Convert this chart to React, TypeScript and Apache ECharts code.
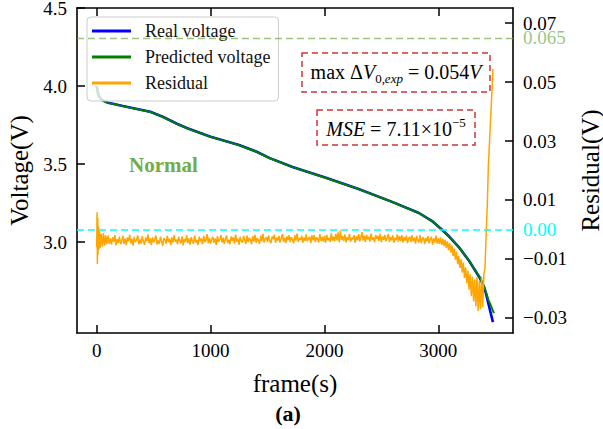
import React, { useEffect, useRef } from "react";
import * as echarts from "echarts";

const FONT = '"Liberation Serif", "Times New Roman", serif';

const xTicks = [0, 1000, 2000, 3000];
const voltageTicks = [3.0, 3.5, 4.0, 4.5];
const residualTicks = [-0.03, -0.01, 0.01, 0.03, 0.05, 0.07];
const legendNames = ["Real voltage", "Predicted voltage", "Residual"];

const realVoltage: [number, number][] = [
  [0, 4.0], [8, 3.965], [20, 3.935], [40, 3.915], [70, 3.902], [100, 3.893],
  [230, 3.872], [470, 3.835], [580, 3.803], [700, 3.76], [790, 3.731],
  [1000, 3.675], [1250, 3.622], [1400, 3.58], [1520, 3.538], [1720, 3.481],
  [2020, 3.41], [2300, 3.34], [2600, 3.256], [2830, 3.186], [2950, 3.132],
  [3030, 3.08], [3100, 3.032], [3180, 2.968], [3270, 2.88], [3360, 2.776],
  [3400, 2.715], [3420, 2.668], [3440, 2.605], [3460, 2.545], [3480, 2.487],
];

const predictedVoltage: [number, number][] = [
  [0, 4.0], [8, 3.963], [20, 3.934], [40, 3.914], [70, 3.901], [100, 3.892],
  [230, 3.871], [470, 3.834], [580, 3.802], [700, 3.759], [790, 3.73],
  [1000, 3.674], [1250, 3.621], [1400, 3.579], [1520, 3.537], [1720, 3.48],
  [2020, 3.409], [2300, 3.339], [2600, 3.255], [2830, 3.185], [2950, 3.131],
  [3030, 3.079], [3100, 3.031], [3180, 2.967], [3270, 2.88], [3360, 2.778],
  [3400, 2.718], [3420, 2.675], [3440, 2.63], [3460, 2.595], [3488, 2.545],
];

// first seconds of the residual (V), irregular sampling
const residualStart: [number, number][] = [
  [0, -0.006], [3, 0.0058], [6, -0.0117], [9, 0.004], [12, -0.0085], [16, 0.001],
  [20, -0.0068], [25, -0.0005], [30, -0.0062], [40, -0.0015], [50, -0.0058],
  [60, -0.0012], [70, -0.0055], [80, -0.002], [90, -0.005],
];

// residual in mV, one value every 10 s from t = 100 s
const residualFrom = 100;
const residualStepS = 10;
const residualMv: number[] = [
  -2.1, -4.8, -3.0, -5.1, -2.6, -4.2, -1.9, -5.4, -3.3, -4.6,
  -2.4, -5.0, -3.8, -2.2, -4.9, -3.1, -5.3, -2.7, -4.0, -1.8,
  -4.7, -3.2, -5.5, -2.5, -4.3, -3.6, -2.0, -5.0, -3.4, -4.8,
  -2.3, -4.1, -5.2, -2.8, -3.9, -1.7, -4.6, -3.0, -5.3, -2.6,
  -4.4, -3.3, -2.1, -5.1, -3.7, -4.9, -2.4, -4.0, -5.6, -2.9,
  -3.5, -4.8, -2.2, -4.3, -3.1, -5.2, -2.7, -4.5, -1.9, -4.1,
  -3.4, -5.0, -2.5, -3.8, -4.7, -2.3, -5.4, -3.2, -4.2, -2.0,
  -4.6, -3.0, -5.1, -2.6, -3.9, -4.8, -2.1, -4.4, -3.5, -5.3,
  -2.4, -4.0, -3.1, -5.0, -2.2, -4.3, -3.7, -1.6, -4.6, -2.9,
  -4.9, -3.3, -2.5, -4.5, -3.0, -5.2, -2.3, -4.1, -3.6, -1.9,
  -4.4, -2.8, -4.9, -3.2, -2.0, -4.6, -3.5, -5.0, -2.4, -3.9,
  -2.6, -4.7, -1.7, -4.2, -3.1, -5.1, -2.5, -3.8, -4.5, -2.2,
  -3.6, -4.9, -2.1, -4.3, -2.8, -3.5, -5.0, -2.3, -4.1, -1.8,
  -4.5, -2.9, -3.7, -4.8, -2.2, -4.0, -1.5, -4.4, -3.2, -2.6,
  -4.2, -2.0, -3.9, -4.6, -2.4, -3.3, -1.8, -4.5, -2.7, -3.8,
  -2.2, -4.4, -3.0, -1.6, -4.1, -2.8, -4.6, -2.3, -3.6, -1.9,
  -4.3, -2.6, -3.4, -4.7, -2.0, -3.8, -1.4, -4.2, -2.9, -3.5,
  -2.1, -4.5, -2.7, -3.9, -1.7, -4.0, -3.1, -2.4, -4.6, -2.0,
  -3.7, -1.9, -4.3, -2.6, -3.2, -4.4, -1.6, -3.9, -2.5, -4.1,
  -2.2, -4.5, -1.8, -3.6, -2.9, -4.2, -1.3, -3.8, -2.4, -4.0,
  -1.5, -3.7, -1.0, -4.3, -0.4, -3.5, -2.2, -3.9, -1.7, -4.4,
  -2.6, -3.6, -1.5, -4.1, -2.8, -3.3, -1.9, -4.5, -2.3, -3.7,
  -1.6, -4.0, -2.7, -0.9, -3.8, -2.1, -4.2, -1.8, -3.4, -2.5,
  -4.1, -1.4, -3.6, -2.6, -4.4, -1.9, -3.2, -2.2, -3.9, -1.5,
  -4.3, -2.4, -3.5, -1.8, -4.0, -2.9, -1.6, -4.2, -2.6, -3.7,
  -2.0, -4.5, -2.8, -3.6, -1.7, -4.1, -2.3, -3.9, -1.9, -4.4,
  -2.5, -3.8, -2.1, -4.6, -3.0, -2.4, -4.3, -1.9, -4.0, -2.8,
  -4.8, -2.2, -3.7, -4.4, -1.9, -4.6, -3.1, -2.6, -5.0, -2.9,
  -4.1, -2.3, -4.7, -3.3, -2.5, -5.1, -3.0, -4.4, -2.1, -4.8,
  -3.0, -4.9, -2.7, -5.2, -3.1, -5.6, -3.5, -6.2, -4.0, -7.0,
  -4.6, -7.8, -5.4, -9.0, -6.5, -10.2, -7.6, -11.8, -8.9, -13.0,
  -10.0, -14.6, -11.2, -16.4, -12.8, -18.2, -14.0, -20.4, -15.2, -22.6,
  -16.0, -24.4, -17.0, -26.0, -16.2, -27.6, -17.5, -27.0, -16.0, -26.4,
  -15.4, -13.0, -2.0, 8.0, 22.0, 30.0, 38.0, 46.0, 54.4,
];

const residual: [number, number][] = [
  ...residualStart,
  ...residualMv.map((mv, i) => [residualFrom + residualStepS * i, mv / 1000] as [number, number]),
];

const tickLabel = { fontSize: 19, fontFamily: FONT, color: "#000", lineHeight: 14 };
const axisLine = { show: true, onZero: false, lineStyle: { color: "#000", width: 1.6 } };
const tick = (values: number[]) => ({
  show: true,
  inside: true,
  length: 8,
  lineStyle: { color: "#000", width: 1.5 },
  customValues: values,
});
const minusFmt = (d: number) => (v: number) => v.toFixed(d).replace("-", "\u2212");

const RED = "#C9373A";
const mainRich = {
  n: { fontSize: 20, fontFamily: FONT, color: "#000", lineHeight: 26 },
  i: { fontSize: 20, fontFamily: FONT, fontStyle: "italic", color: "#000", lineHeight: 26 },
  s: { fontSize: 13, fontFamily: FONT, color: "#000", lineHeight: 13, verticalAlign: "bottom" },
  si: { fontSize: 13, fontFamily: FONT, fontStyle: "italic", color: "#000", lineHeight: 13, verticalAlign: "bottom" },
  sp: { fontSize: 13, fontFamily: FONT, color: "#000", lineHeight: 13, verticalAlign: "top" },
};

export default function App() {
  const ref = useRef<HTMLDivElement>(null);
  useEffect(() => {
    const chart = echarts.init(ref.current!, null, { renderer: "svg" });
    const option: any = {
      animation: false,
      backgroundColor: "#fff",
      grid: { left: 77, right: 90, top: 8, bottom: 96, containLabel: false, outerBoundsMode: "none" },
      legend: {
        data: legendNames,
        orient: "vertical",
        left: 87,
        top: 17,
        icon: "rect",
        itemWidth: 39,
        itemHeight: 3,
        itemGap: 6,
        padding: [4, 8, 8, 5],
        backgroundColor: "rgba(255,255,255,0.8)",
        borderColor: "#cccccc",
        borderWidth: 1,
        borderRadius: 4,
        textStyle: { fontFamily: FONT, fontSize: 18, color: "#111", lineHeight: 20, padding: [0, 0, 0, 9] },
      },
      xAxis: [
        {
          type: "value",
          position: "bottom",
          min: -173,
          max: 3656,
          axisLine,
          axisTick: tick(xTicks),
          axisLabel: { ...tickLabel, lineHeight: 19, customValues: xTicks, margin: 8, formatter: (v: number) => String(v) },
          splitLine: { show: false },
          name: "frame(s)",
          nameLocation: "middle",
          nameGap: 38,
          nameTextStyle: { fontSize: 25, fontFamily: FONT, color: "#000" },
        },
        {
          type: "value",
          position: "top",
          min: -173,
          max: 3656,
          axisLine,
          axisTick: tick(xTicks),
          axisLabel: { show: false, customValues: xTicks },
          splitLine: { show: false },
        },
      ],
      yAxis: [
        {
          type: "value",
          position: "left",
          min: 2.417,
          max: 4.5,
          axisLine,
          axisTick: tick(voltageTicks),
          axisLabel: { ...tickLabel, customValues: voltageTicks, margin: 10, formatter: (v: number) => v.toFixed(1) },
          splitLine: { show: false },
          name: "Voltage(V)",
          nameLocation: "middle",
          nameRotate: 90,
          nameGap: 44,
          nameTextStyle: { fontSize: 25, fontFamily: FONT, color: "#000" },
        },
        {
          type: "value",
          position: "right",
          min: -0.0351,
          max: 0.0751,
          axisLine,
          axisTick: tick(residualTicks),
          axisLabel: { ...tickLabel, customValues: residualTicks, margin: 10, formatter: minusFmt(2) },
          splitLine: { show: false },
          name: "Residual(V)",
          nameLocation: "middle",
          nameRotate: 90,
          nameGap: 64,
          nameTextStyle: { fontSize: 25, fontFamily: FONT, color: "#000" },
        },
      ],
      series: [
        {
          name: legendNames[0],
          type: "line",
          data: realVoltage,
          xAxisIndex: 0,
          yAxisIndex: 0,
          symbol: "none",
          color: "#0000FF",
          lineStyle: { color: "#0000FF", width: 2.6 },
        },
        {
          name: legendNames[1],
          type: "line",
          data: predictedVoltage,
          xAxisIndex: 0,
          yAxisIndex: 0,
          symbol: "none",
          color: "#008000",
          lineStyle: { color: "#008000", width: 2 },
        },
        {
          name: legendNames[2],
          type: "line",
          data: residual,
          xAxisIndex: 0,
          yAxisIndex: 1,
          symbol: "none",
          color: "#FFA500",
          lineStyle: { color: "#FFA500", width: 1.5 },
          markLine: {
            silent: true,
            symbol: "none",
            precision: 4,
            data: [
              {
                yAxis: 0,
                lineStyle: { color: "#00FFFF", type: [7, 4], width: 1.5 },
                label: { show: true, position: "end", distance: 10, formatter: "0.00", color: "#00FFFF", fontSize: 19, lineHeight: 14, fontFamily: FONT },
              },
              {
                yAxis: 0.065,
                lineStyle: { color: "#70AD47", opacity: 0.7, type: [7, 4], width: 1.3 },
                label: { show: true, position: "end", distance: 10, formatter: "0.065", color: "#70AD47", fontSize: 19, lineHeight: 14, fontFamily: FONT },
              },
            ],
          },
        },
      ],
      graphic: [
        {
          type: "rect",
          shape: { x: 302, y: 53, width: 188, height: 39 },
          style: { fill: "none", stroke: RED, lineWidth: 1.5, lineDash: [6, 4] },
          z: 100,
        },
        {
          type: "text",
          x: 396,
          y: 72,
          z: 100,
          style: {
            text: "{n|max \u0394}{i|V}{s|0,}{si|exp}{n| = 0.054}{i|V}",
            align: "center",
            verticalAlign: "middle",
            rich: mainRich,
          },
        },
        {
          type: "rect",
          shape: { x: 317, y: 110, width: 158, height: 35 },
          style: { fill: "none", stroke: RED, lineWidth: 1.5, lineDash: [6, 4] },
          z: 100,
        },
        {
          type: "text",
          x: 396,
          y: 129,
          z: 100,
          style: {
            text: "{i|MSE}{n| = 7.11\u00d710}{sp|\u22125}",
            align: "center",
            verticalAlign: "middle",
            rich: mainRich,
          },
        },
        {
          type: "text",
          x: 129,
          y: 165,
          z: 100,
          style: {
            text: "Normal",
            fill: "#70AD47",
            font: `bold 21px ${FONT}`,
            align: "left",
            verticalAlign: "middle",
          },
        },
        {
          type: "text",
          x: 288,
          y: 413,
          z: 100,
          style: {
            text: "(a)",
            fill: "#000",
            font: `bold 22px ${FONT}`,
            align: "center",
            verticalAlign: "middle",
          },
        },
      ],
    };
    chart.setOption(option);
    return () => chart.dispose();
  }, []);
  return <div ref={ref} style={{ position: "absolute", left: 0, top: 0, width: 603, height: 429 }} />;
}
